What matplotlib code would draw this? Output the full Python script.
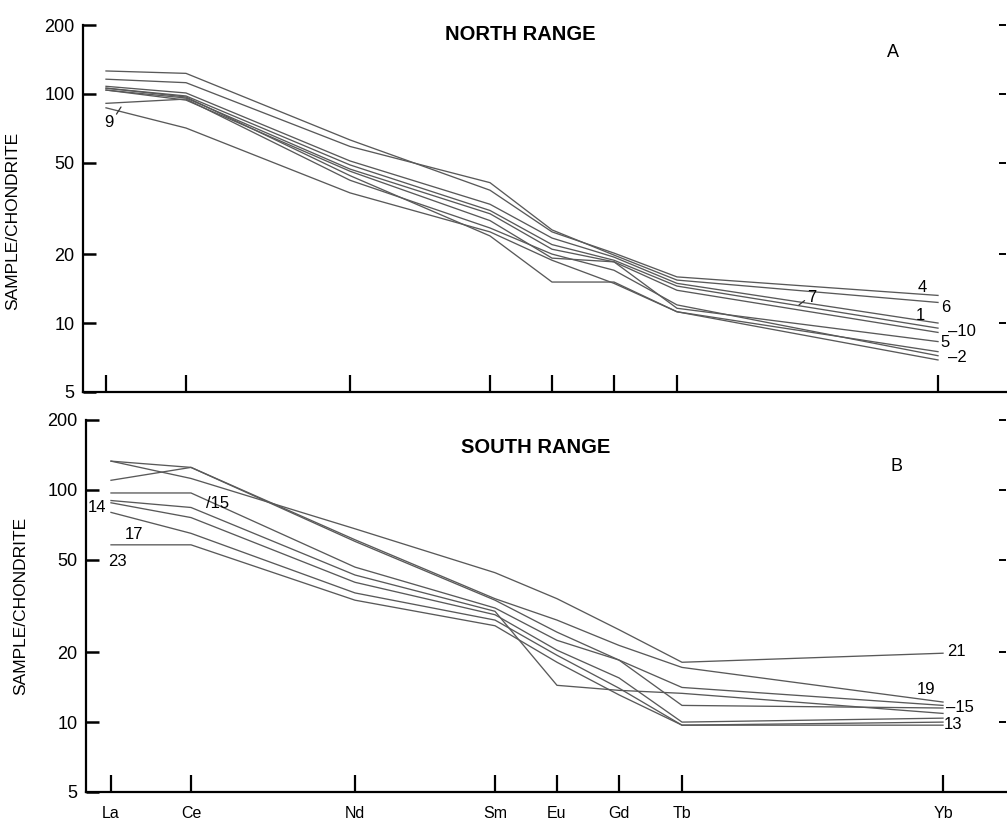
import matplotlib
matplotlib.use("Agg")
import matplotlib.pyplot as plt
from matplotlib.ticker import FixedLocator, FixedFormatter, NullLocator

plt.rcParams['font.family'] = ['Liberation Sans', 'DejaVu Sans']

# REE on the x axis, uneven spacing as in the original diagram
elements = ["La", "Ce", "Nd", "Sm", "Eu", "Gd", "Tb", "Yb"]
ree_pos = [0, 80, 244, 384, 446, 508, 571, 832]

yticks = [5, 10, 20, 50, 100, 200]

# North Range, sample/chondrite
n4  = [126, 123, 63, 38, 25.0, 20.2, 15.9, 13.2]
n6  = [116, 112, 59, 41, 25.5, 19.8, 15.4, 12.3]
n1  = [108, 101, 51, 33, 23.5, 19.4, 14.9, 10.0]
n7  = [106, 98, 49, 31, 22.0, 18.8, 14.5, 9.5]
n10 = [104, 96, 47, 30, 21.0, 18.5, 13.9, 9.1]
n5  = [104, 94, 46, 28, 19.2, 18.5, 11.6, 8.3]
n2  = [106, 97, 44, 24, 15.1, 15.1, 11.2, 7.5]
n3  = [91, 95, 42, 26, 20.0, 17.0, 12.0, 7.2]
n9  = [87, 71, 37, 25, 18.8, 14.9, 11.2, 6.9]
north = [n4, n6, n1, n7, n10, n5, n2, n3, n9]

# South Range, sample/chondrite
s21 = [133, 112, 68, 44, 34.0, 25.0, 18.1, 19.8]
s19 = [133, 125, 61, 34, 27.5, 21.4, 17.2, 12.2]
s_a = [110, 125, 60, 33.5, 24.4, 18.5, 14.1, 11.8]
s15 = [97, 97, 46.5, 31, 22.5, 18.5, 11.8, 11.5]
s14 = [90, 84, 43, 30, 14.4, 13.7, 13.3, 10.9]
s_b = [88, 76, 40, 29, 20.4, 15.5, 10.0, 10.4]
s17 = [80, 65, 36, 27.5, 19.4, 14.0, 9.7, 10.0]
s23 = [58, 58, 33.5, 26, 18.1, 13.1, 9.7, 9.7]
south = [s21, s19, s_a, s15, s14, s_b, s17, s23]

# sample number labels: text, (x, y) in data units
north_labels = [("4", 816, 14.3), ("6", 840, 11.7), ("1", 814, 10.8),
                ("\u201310", 856, 9.2), ("5", 839, 8.2), ("\u20132", 851, 7.1)]
south_labels = [("14", -14, 84), ("17", 23, 64.5), ("23", 6, 49.3),
                ("/15", 107, 87), ("21", 845, 20.2), ("19", 815, 13.8),
                ("\u201315", 849, 11.6), ("13", 842, 9.8)]

W, H = 1007, 819
fig = plt.figure(figsize=(W / 100, H / 100), dpi=100)
ax1 = fig.add_axes([83 / W, 1 - 392 / H, (1006 - 83) / W, (392 - 25) / H])
ax2 = fig.add_axes([86 / W, 1 - 792 / H, (1006 - 86) / W, (792 - 420) / H])

line_kw = dict(color="0.35", lw=0.95)
for ax, data, xl in [(ax1, north, (-23, 900)), (ax2, south, (-25, 895))]:
    for ys in data:
        ax.plot(ree_pos, ys, **line_kw)
    ax.set_yscale("log")
    ax.set_ylim(5, 200)
    ax.set_xlim(*xl)
    ax.yaxis.set_major_locator(FixedLocator(yticks))
    ax.yaxis.set_major_formatter(FixedFormatter([str(t) for t in yticks]))
    ax.yaxis.set_minor_locator(NullLocator())
    ax.xaxis.set_major_locator(FixedLocator(ree_pos))
    ax.spines["top"].set_visible(False)
    ax.spines["right"].set_visible(False)
    for s in ("left", "bottom"):
        ax.spines[s].set_linewidth(1.6)
    ax.tick_params(axis="y", which="major", direction="in", length=9, width=1.8,
                   labelsize=13, pad=6, right=True)
    ax.tick_params(axis="x", which="major", direction="in", length=12, width=1.6,
                   labelsize=11.5, pad=10)
    ax.set_ylabel("SAMPLE/CHONDRITE", fontsize=12.5)

ax1.tick_params(axis="x", labelbottom=False)
ax2.set_xticklabels(elements)
ax1.yaxis.set_label_coords(-0.068, 0.466)
ax2.yaxis.set_label_coords(-0.063, 0.50)

# short right-hand ticks (tick marks only)
for ax in (ax1, ax2):
    for t in ax.yaxis.get_major_ticks():
        t.tick2line.set_markersize(5)
        t.tick2line.set_markeredgewidth(1.4)

ax1.text(0.4735, 0.973, "NORTH RANGE", transform=ax1.transAxes, fontsize=14.5,
         fontweight="bold", ha="center", va="center")
ax1.text(0.8776, 0.926, "A", transform=ax1.transAxes, fontsize=13,
         ha="center", va="center")
ax2.text(0.489, 0.927, "SOUTH RANGE", transform=ax2.transAxes, fontsize=14.5,
         fontweight="bold", ha="center", va="center")
ax2.text(0.8815, 0.874, "B", transform=ax2.transAxes, fontsize=13,
         ha="center", va="center")

for txt, x, y in north_labels:
    ax1.text(x, y, txt, fontsize=12, ha="center", va="center")
for txt, x, y in south_labels:
    ax2.text(x, y, txt, fontsize=12, ha="center", va="center")

lead = dict(arrowstyle="-", lw=0.9, color="0.2", shrinkA=0, shrinkB=0)
ax1.annotate("9", xy=(15, 87.7), xytext=(3, 74.7), fontsize=12, ha="center",
             va="center", arrowprops=dict(lead, relpos=(1.0, 0.8)))
ax1.annotate("7", xy=(693, 12.0), xytext=(706, 12.9), fontsize=12, ha="center",
             va="center", arrowprops=dict(lead, relpos=(0.0, 0.45)))

fig.savefig("out.png", dpi=100)
